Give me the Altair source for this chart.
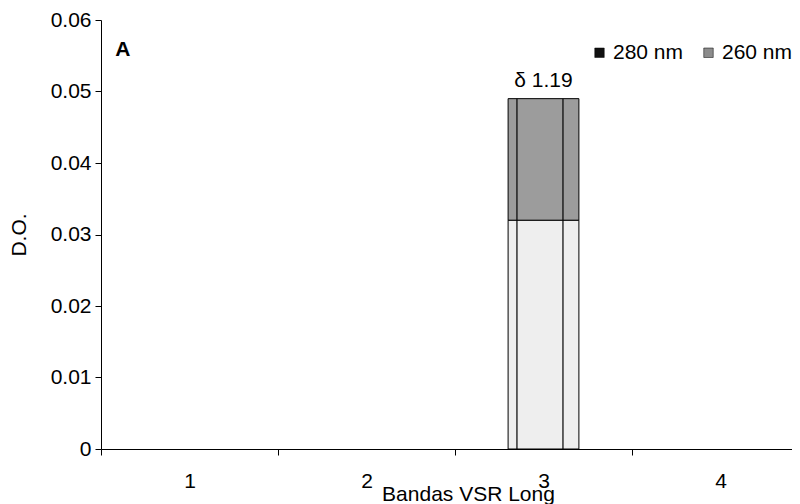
import altair as alt
import pandas as pd

# ---- data ----
categories = [1, 2, 3, 4]
bar_category = [3, 3]
series = ["280 nm", "260 nm"]
values = [0.032, 0.017]            # stacked: 280 nm bottom, 260 nm on top
bar_fills = ["#eeeeee", "#9c9c9c"]
legend_colors = ["#111111", "#8c8c8c"]
y_ticks = [0, 0.01, 0.02, 0.03, 0.04, 0.05, 0.06]
x_axis_values = [0.5, 1, 1.5, 2, 2.5, 3, 3.5, 4]
annotation_text = ["δ 1.19"]
panel_label = ["A"]

df = pd.DataFrame({"series": series, "value": values, "cat": bar_category})
df["y1"] = df["value"].cumsum()
df["y0"] = df["y1"] - df["value"]

FONT = "Liberation Sans"
FS = 21

xscale = alt.Scale(domain=[0.5, 4.404], nice=False, zero=False)
yscale = alt.Scale(domain=[0, 0.06], nice=False)

xaxis = alt.Axis(
    values=x_axis_values,
    labelExpr="datum.value % 1 == 0 ? format(datum.value, 'd') : ''",
    tickOpacity={"condition": {"test": "datum.value % 1 == 0", "value": 0}, "value": 1},
    tickSize=6, labelPadding=15, labelFlush=False, labelOverlap=False,
    grid=False, title="Bandas VSR Long", titlePadding=-7.5, titleX=367,
    domainColor="black", tickColor="black", labelColor="black", titleColor="black",
    labelFont=FONT, titleFont=FONT, labelFontSize=FS, titleFontSize=FS,
    titleFontWeight="normal",
)
yaxis = alt.Axis(
    values=y_ticks, format=".2~f", tickSize=6, labelPadding=4, grid=False,
    title="D.O.", titlePadding=21,
    domainColor="black", tickColor="black", labelColor="black", titleColor="black",
    labelFont=FONT, titleFont=FONT, labelFontSize=FS, titleFontSize=FS,
    titleFontWeight="normal",
)

base = alt.Chart(df)

bar_layers = []
for s, f in zip(series, bar_fills):
    bar_layers.append(
        base.transform_filter(alt.datum.series == s)
        .transform_calculate(xa="datum.cat - 0.2", xb="datum.cat + 0.2")
        .mark_bar(fill=f, stroke="black", strokeWidth=1)
        .encode(
            x=alt.X("xa:Q", scale=xscale, axis=xaxis),
            x2="xb:Q",
            y=alt.Y("y0:Q", scale=yscale, axis=yaxis),
            y2="y1:Q",
        )
    )

inner = base.mark_rule(color="black", strokeWidth=1.2).transform_calculate(
    xl="datum.cat - 0.15", xr="datum.cat + 0.11"
).transform_fold(["xl", "xr"], as_=["side", "xpos"]).encode(
    x=alt.X("xpos:Q", scale=xscale, axis=xaxis),
    y=alt.Y("y0:Q", scale=yscale, axis=yaxis),
    y2="y1:Q",
)

legend_pts = base.mark_square(size=0, filled=True, opacity=1).encode(
    x=alt.X("cat:Q", scale=xscale, axis=xaxis),
    y=alt.Y("y1:Q", scale=yscale, axis=yaxis),
    color=alt.Color(
        "series:N",
        scale=alt.Scale(domain=series, range=legend_colors),
        legend=alt.Legend(
            title=None, orient="none", direction="horizontal",
            legendX=488, legendY=22, symbolType="square", symbolSize=90,
            symbolOpacity=1, symbolStrokeColor="black", symbolStrokeWidth=0.5,
            labelFont=FONT, labelFontSize=FS, labelColor="black",
            labelOffset=3, columnPadding=14,
        ),
    ),
)

top_df = pd.DataFrame({"cat": [bar_category[0]], "top": [df["y1"].max()], "txt": annotation_text})
top_label = alt.Chart(top_df).mark_text(
    font=FONT, fontSize=FS, baseline="bottom", dy=-8, color="black"
).encode(
    x=alt.X("cat:Q", scale=xscale, axis=xaxis),
    y=alt.Y("top:Q", scale=yscale, axis=yaxis),
    text="txt:N",
)

panel = alt.Chart(pd.DataFrame({"t": panel_label})).mark_text(
    font=FONT, fontSize=FS, fontWeight="bold", color="black"
).encode(
    x=alt.datum(0.624, scale=xscale, axis=xaxis),
    y=alt.datum(0.0558, scale=yscale, axis=yaxis),
    text="t:N",
)

chart = alt.layer(*bar_layers, inner, legend_pts, top_label, panel).properties(
    width=691, height=429,
    padding={"left": 93, "top": 12, "right": 0, "bottom": 55},
    autosize="none",
    background="white",
).configure_view(stroke=None)

chart.save("out.html", embed_options={"renderer": "svg", "actions": False})
